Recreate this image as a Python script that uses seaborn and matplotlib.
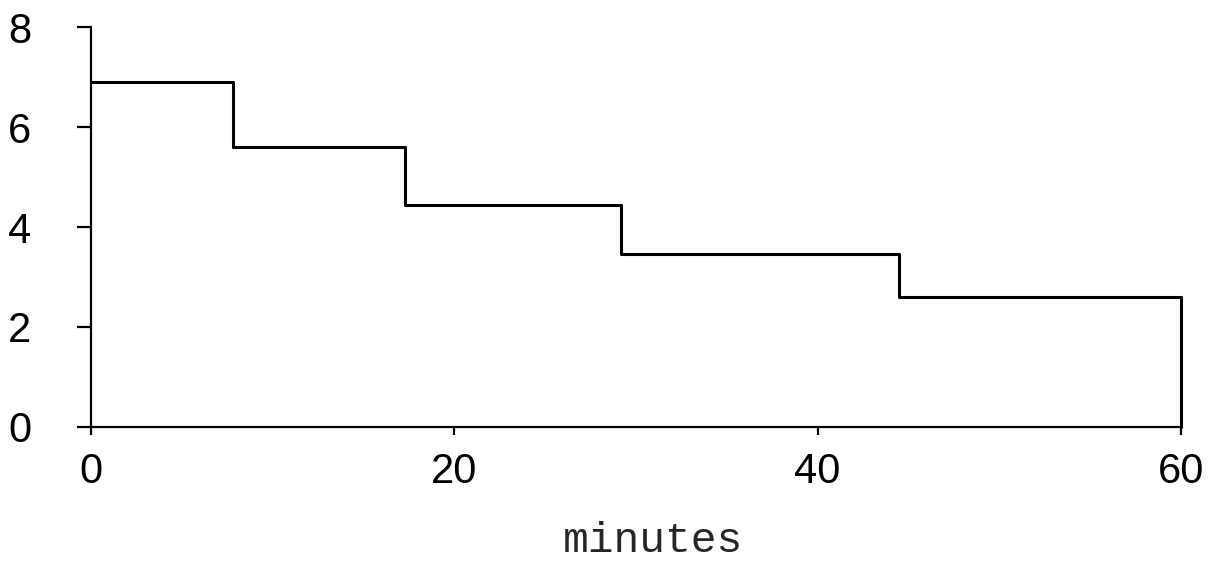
import matplotlib
matplotlib.use("Agg")
import matplotlib.pyplot as plt
import seaborn as sns
import pandas as pd

# step function data (minutes, value)
minutes = [0, 7.8, 17.3, 29.2, 44.5, 60, 60]
values = [6.9, 5.6, 4.45, 3.45, 2.6, 2.6, 0]
xticks = [0, 20, 40, 60]
yticks = [0, 2, 4, 6, 8]

sns.set_style("ticks")
plt.rcParams['font.family'] = ['Liberation Sans', 'DejaVu Sans']

fig = plt.figure(figsize=(12.2, 5.63), dpi=100)
ax = fig.add_axes([0.0746, 0.2416, 0.8934, 0.7104])

df = pd.DataFrame({"minutes": minutes, "value": values})
sns.lineplot(data=df, x="minutes", y="value", estimator=None, sort=False,
             drawstyle="steps-post", color="black", linewidth=2.2, ax=ax)
for ln in ax.lines:
    ln.set_clip_on(False)

ax.set_xlim(0, 60)
ax.set_ylim(0, 8)
ax.set_xticks(xticks)
ax.set_yticks(yticks)
ax.set_xticklabels([str(t) for t in xticks])
ax.set_yticklabels([str(t) for t in yticks])
sns.despine(ax=ax)
for s in ("left", "bottom"):
    ax.spines[s].set_linewidth(1.6)
    ax.spines[s].set_color("black")
ax.tick_params(axis="y", length=10, width=1.6, direction="out", pad=33,
               labelsize=30, colors="black")
ax.tick_params(axis="x", length=6, width=1.6, direction="out", pad=12,
               labelsize=30, colors="black")
ax.set_ylabel("")
ax.set_xlabel("minutes", fontsize=31, family="Liberation Mono")
ax.xaxis.set_label_coords(0.516, -0.335)
ax.xaxis.label.set_verticalalignment("bottom")

fig.savefig("out.png", dpi=100, facecolor="white")
